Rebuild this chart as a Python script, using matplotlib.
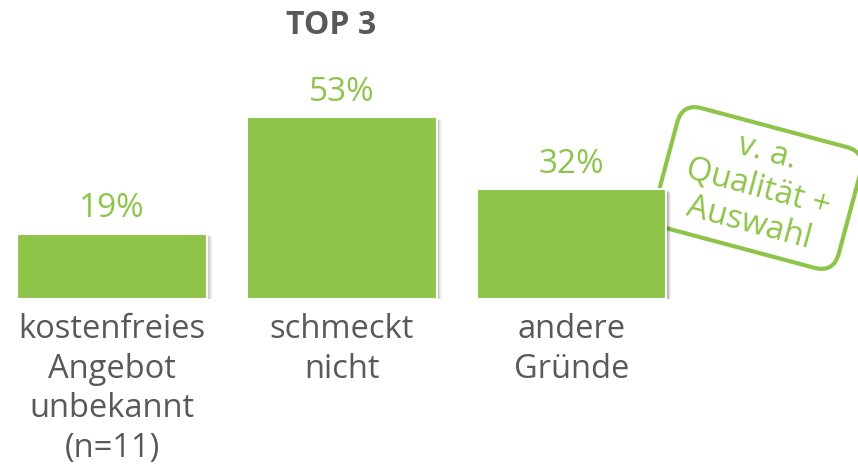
import matplotlib
matplotlib.use("Agg")
import matplotlib.pyplot as plt
from matplotlib.patches import FancyBboxPatch
from matplotlib.transforms import Affine2D

categories = ["kostenfreies\nAngebot\nunbekannt\n(n=11)", "schmeckt\nnicht", "andere\nGründe"]
values = [19, 53, 32]
value_labels = ["19%", "53%", "32%"]
title = "TOP 3"
note = "v. a.\nQualität +\nAuswahl"

GREEN = "#8FC44A"
GRAY = "#595959"
FONT = ["Open Sans", "DejaVu Sans"]

fig = plt.figure(figsize=(8.58, 4.67), dpi=100)
ax = fig.add_axes([0, 0.3597, 1, 0.4412])
ax.set_xlim(-0.4875, 3.247)
ax.set_ylim(0, 60)
ax.axis("off")

width = 0.826
x = list(range(len(values)))

# soft shadow
for k, a in enumerate([0.10, 0.10, 0.08, 0.06]):
    off = (k + 1) * 0.0055
    ax.bar([xi + off for xi in x], values, width=width, bottom=-0.25 * (k + 1),
           color="black", alpha=a, linewidth=0, zorder=2)
ax.bar(x, values, width=width, color=GREEN, edgecolor="white", linewidth=1.5, zorder=3)

for xi, v, lab in zip(x, values, value_labels):
    ax.annotate(lab, (xi, v), xytext=(0, 6), textcoords="offset points",
                ha="center", va="bottom", fontsize=24, color=GREEN, family=FONT,
                annotation_clip=False)
for xi, c in zip(x, categories):
    ax.annotate(c, (xi, 0), xytext=(0, -10), textcoords="offset points",
                ha="center", va="top", fontsize=23.5, color=GRAY, family=FONT,
                linespacing=1.27, annotation_clip=False)

fig.text(0.3862, 0.945, title, ha="center", va="center", fontsize=23,
         fontweight="bold", color=GRAY, family=FONT)

# rotated note box (in pixel units -> inches)
cx, cy = 758, 467 - 188
bw, bh = 190, 125
box_tr = (Affine2D().rotate_deg(-15).translate(cx, cy).scale(1 / 100.0)
          + fig.dpi_scale_trans)
box = FancyBboxPatch((-bw / 2, -bh / 2), bw, bh,
                     boxstyle="round,pad=0,rounding_size=20",
                     facecolor="white", edgecolor=GREEN, linewidth=3,
                     transform=box_tr, zorder=1, clip_on=False)
ax.add_patch(box)
fig.text(cx / 858, cy / 467, note, ha="center", va="center", rotation=-15,
         rotation_mode="anchor", fontsize=23.5, color=GREEN, family=FONT,
         linespacing=1.15, multialignment="center", zorder=0.5)

fig.savefig("out.png", dpi=100, facecolor="white")
